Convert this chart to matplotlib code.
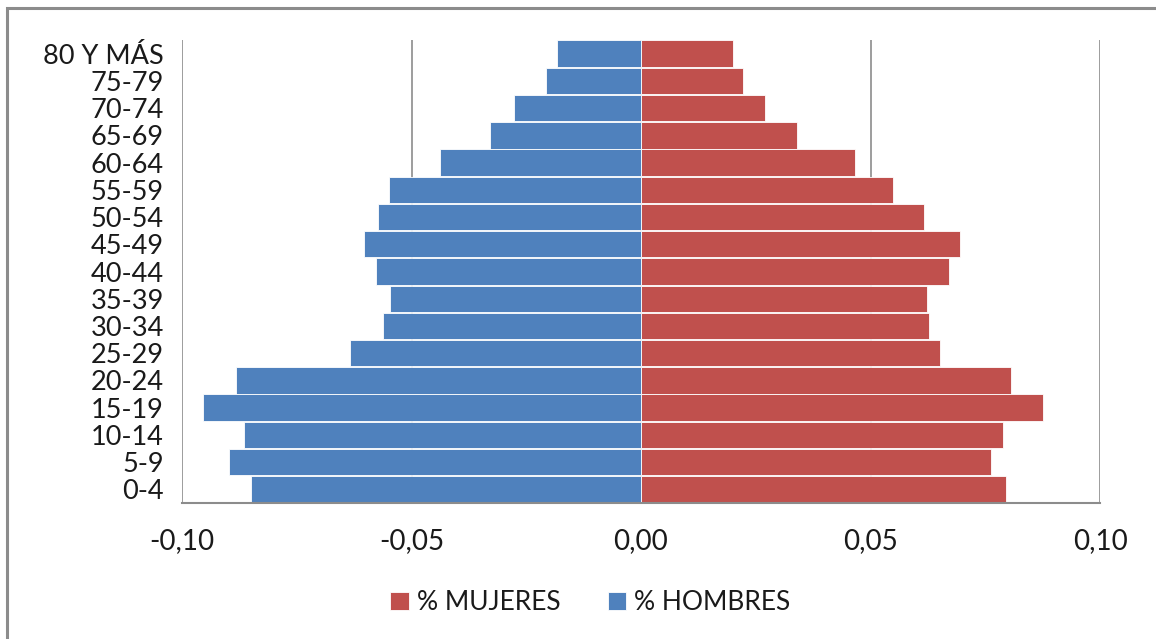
import matplotlib.pyplot as plt
import matplotlib.patches as patches
import numpy as np

# grupos de edad (de abajo hacia arriba)
grupos = ["0-4", "5-9", "10-14", "15-19", "20-24", "25-29", "30-34", "35-39",
          "40-44", "45-49", "50-54", "55-59", "60-64", "65-69", "70-74",
          "75-79", "80 Y MÁS"]
hombres = [-0.0850, -0.0898, -0.0865, -0.0954, -0.0883, -0.0635, -0.0563, -0.0546,
           -0.0578, -0.0604, -0.0572, -0.0548, -0.0437, -0.0328, -0.0276,
           -0.0207, -0.0183]
mujeres = [0.0796, 0.0763, 0.0789, 0.0876, 0.0807, 0.0652, 0.0628, 0.0624,
           0.0672, 0.0696, 0.0617, 0.0550, 0.0467, 0.0339, 0.0270,
           0.0222, 0.0200]
xticks = [-0.10, -0.05, 0.00, 0.05, 0.10]

plt.rcParams['font.family'] = ['Lato', 'DejaVu Sans']

fig = plt.figure(figsize=(11.56, 6.39), dpi=100)
ax = fig.add_axes([182/1156, 1-503/639, (1100-182)/1156, (503-40)/639])

# marco exterior
fig.patches.append(patches.Rectangle((7/1156, -0.1), 1.2, 1.1-8/639, transform=fig.transFigure,
                                     fill=False, edgecolor='#8c8c8c', linewidth=2.2))

y = np.arange(len(grupos))
ax.barh(y, mujeres, height=0.97, color='#C0504D', edgecolor='white', linewidth=0.6,
        label='% MUJERES', zorder=2)
ax.barh(y, hombres, height=0.97, color='#4F81BD', edgecolor='white', linewidth=0.6,
        label='% HOMBRES', zorder=2)

ax.set_xlim(-0.10, 0.10)
ax.set_ylim(-0.5, len(grupos) - 0.5)
ax.set_xticks(xticks)
ax.set_xticklabels([f"{v:.2f}".replace('.', ',') for v in xticks], fontsize=20, color='#1a1a1a')
ax.set_yticks(y)
ax.set_yticklabels(grupos, fontsize=19.5, color='#1a1a1a')
ax.tick_params(axis='both', length=0)
ax.tick_params(axis='y', pad=13)
ax.tick_params(axis='x', pad=18)

for v in xticks:
    ax.axvline(v, color='#8c8c8c', linewidth=1.2, zorder=1)
for s in ['top', 'right', 'left']:
    ax.spines[s].set_visible(False)
ax.spines['bottom'].set_color('#8c8c8c')
ax.spines['bottom'].set_linewidth(1.5)

ax.legend(loc='center', bbox_to_anchor=(0.445, -0.215), ncol=2, frameon=False,
          fontsize=19, handlelength=0.7, handleheight=0.7, handletextpad=0.3,
          columnspacing=1.8, labelcolor='#1a1a1a')

fig.savefig("out.png", dpi=100)
